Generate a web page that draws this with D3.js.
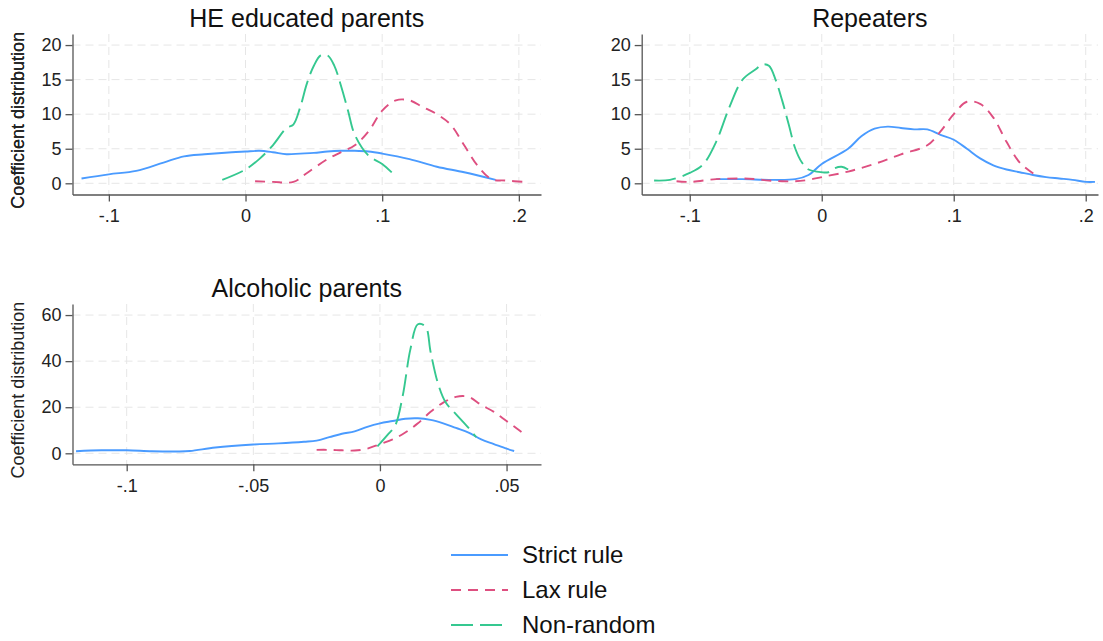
<!DOCTYPE html>
<meta charset="utf-8">
<style>
body { margin: 0; background: #fff; }
svg { font-family: Arial, "Liberation Sans", sans-serif; }
.grid line { stroke: #e6e6e6; stroke-dasharray: 8,5; }
.axis path, .axis line { stroke: #555; stroke-width: 1.3; }
.ttl { font-size: 25px; fill: #111; text-anchor: middle; }
.ylab { font-size: 18px; fill: #222; text-anchor: middle; }
.curve { fill: none; stroke-width: 1.9; }
.legend text { font-size: 24px; fill: #111; }
</style>
<svg width="1103" height="641" id="chart"></svg>
<script src="https://d3js.org/d3.v7.min.js"></script>
<script>
// series: [x, density] pairs
var heStrict = [[-0.12,0.7],[-0.1,1.3],[-0.08,1.8],[-0.06,3],[-0.045,3.9],[-0.03,4.2],[-0.01,4.5],[0,4.6],[0.01,4.7],[0.02,4.5],[0.03,4.2],[0.04,4.3],[0.05,4.4],[0.06,4.6],[0.07,4.7],[0.08,4.7],[0.09,4.6],[0.1,4.3],[0.12,3.5],[0.14,2.4],[0.16,1.6],[0.183,0.5]];
var heLax = [[0.007,0.3],[0.02,0.2],[0.035,0.2],[0.045,1.5],[0.06,3.5],[0.07,4.5],[0.08,5.5],[0.09,7.5],[0.1,10.5],[0.11,12],[0.12,12],[0.13,11],[0.14,10],[0.15,8.5],[0.16,5.5],[0.17,2.5],[0.18,0.6],[0.19,0.4],[0.205,0.2]];
var heNonrandom = [[-0.017,0.5],[0,2],[0.01,3.5],[0.02,5.5],[0.03,8],[0.035,8.5],[0.04,11],[0.045,14.5],[0.05,17],[0.055,18.5],[0.06,18.5],[0.065,17],[0.07,14],[0.075,10.5],[0.08,7],[0.09,4],[0.1,2.8],[0.11,1]];

var repStrict = [[-0.08,0.6],[-0.06,0.6],[-0.04,0.5],[-0.02,0.6],[-0.01,1.2],[0,2.8],[0.02,5],[0.03,6.8],[0.04,7.9],[0.05,8.2],[0.06,8],[0.07,7.8],[0.08,7.8],[0.09,7],[0.1,6.3],[0.11,5],[0.12,3.6],[0.13,2.6],[0.14,2],[0.15,1.6],[0.16,1.2],[0.17,0.9],[0.18,0.7],[0.19,0.5],[0.2,0.2],[0.207,0.2]];
var repLax = [[-0.11,0.3],[-0.1,0.2],[-0.08,0.6],[-0.06,0.7],[-0.05,0.6],[-0.04,0.4],[-0.03,0.3],[-0.02,0.3],[-0.01,0.5],[0,0.9],[0.02,1.7],[0.04,2.8],[0.06,4.2],[0.08,5.5],[0.09,7.5],[0.1,10],[0.11,11.8],[0.12,11.5],[0.13,9.5],[0.14,6],[0.15,3],[0.162,1.2]];
var repNonrandom = [[-0.127,0.4],[-0.115,0.5],[-0.1,1.5],[-0.09,2.7],[-0.08,6],[-0.07,11],[-0.06,15],[-0.05,16.5],[-0.045,17.2],[-0.04,17],[-0.035,15],[-0.03,12],[-0.025,8.5],[-0.02,5],[-0.015,3],[-0.01,2],[0,1.6],[0.005,1.6],[0.01,2.2],[0.015,2.4],[0.02,2]];

var alcStrict = [[-0.12,0.9],[-0.11,1.3],[-0.1,1.3],[-0.09,0.9],[-0.08,0.8],[-0.075,1],[-0.065,2.5],[-0.05,3.8],[-0.04,4.3],[-0.03,5],[-0.025,5.5],[-0.02,7],[-0.015,8.5],[-0.01,9.5],[-0.005,11.5],[0,13],[0.005,14],[0.01,15],[0.015,15.2],[0.02,14.5],[0.025,13],[0.03,11],[0.035,9],[0.04,6],[0.045,4],[0.05,2],[0.053,1]];
var alcLax = [[-0.025,1.5],[-0.02,1.5],[-0.015,1.3],[-0.01,1.2],[-0.005,2],[0,4],[0.005,6],[0.01,9],[0.015,13],[0.02,18],[0.025,22],[0.03,24.5],[0.035,24.5],[0.04,21],[0.045,18],[0.05,14],[0.055,10],[0.058,7.5]];
var alcNonrandom = [[-0.001,3],[0.003,8],[0.006,12],[0.009,25],[0.012,45],[0.015,56],[0.018,55],[0.02,44],[0.023,30],[0.026,22],[0.03,17],[0.035,11],[0.038,7]];

var seriesNames = ["Strict rule", "Lax rule", "Non-random"];
var colors = ["#4a9bff", "#de4f80", "#35c890"];
var dashes = [null, "10,7", "22,7"];

var heXTicks = [-0.1, 0, 0.1, 0.2], heYTicks = [0, 5, 10, 15, 20];
var repXTicks = [-0.1, 0, 0.1, 0.2], repYTicks = [0, 5, 10, 15, 20];
var alcXTicks = [-0.1, -0.05, 0, 0.05], alcYTicks = [0, 20, 40, 60];

var svg = d3.select("#chart");

var panels = [
  {title: "HE educated parents", series: [heStrict, heLax, heNonrandom], xt: heXTicks, yt: heYTicks,
   xd: [-0.1266, 0.2162], yd: [-1.62, 21.6], box: [72.5, 541, 34, 194.5]},
  {title: "Repeaters", series: [repStrict, repLax, repNonrandom], xt: repXTicks, yt: repYTicks,
   xd: [-0.1364, 0.2093], yd: [-1.62, 21.6], box: [641.7, 1098, 34, 194.5]},
  {title: "Alcoholic parents", series: [alcStrict, alcLax, alcNonrandom], xt: alcXTicks, yt: alcYTicks,
   xd: [-0.1214, 0.0636], yd: [-4.77, 64.8], box: [72.5, 541, 304, 464.3]}
];

function fmt(v) {
  if (v === 0) return "0";
  return String(v).replace("0.", ".");
}

panels.forEach(function(p) {
  var x = d3.scaleLinear().domain(p.xd).range([p.box[0], p.box[1]]);
  var y = d3.scaleLinear().domain(p.yd).range([p.box[3], p.box[2]]);
  var g = svg.append("g");

  // gridlines
  var grid = g.append("g").attr("class", "grid");
  grid.selectAll(".gy").data(p.yt).enter().append("line")
    .attr("x1", p.box[0]).attr("x2", p.box[1])
    .attr("y1", d => y(d)).attr("y2", d => y(d));
  grid.selectAll(".gx").data(p.xt).enter().append("line")
    .attr("y1", p.box[2]).attr("y2", p.box[3])
    .attr("x1", d => x(d)).attr("x2", d => x(d));

  var ya = g.append("g").attr("class", "axis")
    .attr("transform", "translate(" + p.box[0] + ",0)")
    .call(d3.axisLeft(y).tickValues(p.yt).tickFormat(fmt).tickSize(7).tickPadding(4).tickSizeOuter(0));
  var xa = g.append("g").attr("class", "axis")
    .attr("transform", "translate(0," + p.box[3] + ")")
    .call(d3.axisBottom(x).tickValues(p.xt).tickFormat(fmt).tickSize(7).tickPadding(8).tickSizeOuter(0));
  [ya, xa].forEach(a => a.attr("font-size", 18).attr("font-family", null)
    .selectAll("text").attr("fill", "#222"));

  var line = d3.line().x(d => x(d[0])).y(d => y(d[1])).curve(d3.curveCatmullRom.alpha(0.5));
  p.series.forEach(function(s, i) {
    g.append("path").attr("class", "curve").attr("d", line(s))
      .attr("stroke", colors[i]).attr("stroke-dasharray", dashes[i]);
  });

  g.append("text").attr("class", "ttl")
    .attr("x", (p.box[0] + p.box[1]) / 2).attr("y", p.box[2] - 7).text(p.title);
  g.append("text").attr("class", "ylab")
    .attr("transform", "translate(24," + ((p.box[2] + p.box[3]) / 2 + 6) + ") rotate(-90)")
    .text("Coefficient distribution");
});

// legend
var leg = svg.append("g").attr("class", "legend");
seriesNames.forEach(function(name, i) {
  var yy = 555 + i * 35;
  leg.append("line").attr("x1", 451).attr("x2", 508).attr("y1", yy).attr("y2", yy)
    .attr("stroke", colors[i]).attr("stroke-width", 2.2).attr("stroke-dasharray", dashes[i]);
  leg.append("text").attr("x", 522).attr("y", yy + 8).text(name);
});
</script>
